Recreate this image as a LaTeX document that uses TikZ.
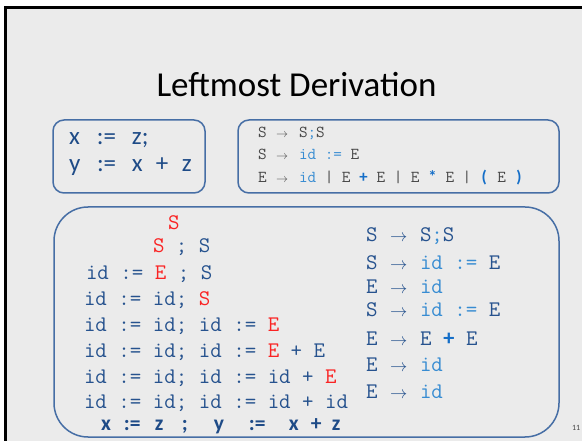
\documentclass[tikz,border=0pt]{standalone}
\usepackage{fontspec}
\setmainfont{Carlito}
\setmonofont{Latin Modern Mono}

\definecolor{slidebg}{RGB}{235,235,235}
\definecolor{panelline}{RGB}{70,110,165}
\definecolor{codeblue}{RGB}{30,75,135}
\definecolor{derivblue}{RGB}{38,82,142}
\definecolor{ltblue}{RGB}{55,140,210}
\definecolor{opblue}{RGB}{20,110,200}
\definecolor{derivred}{RGB}{250,35,35}
\definecolor{gramgray}{RGB}{70,70,70}

% coloured pieces of the grammar text
\newcommand\rd[1]{\textcolor{derivred}{#1}}
\newcommand\lb[1]{\textcolor{ltblue}{#1}}
\newcommand\bop[1]{\makebox[0.525em][c]{\rmfamily\bfseries\textcolor{opblue}{#1}}}
\newcommand\arr[1]{{\fontsize{#1}{#1}\selectfont$\rightarrow$}}

\tikzset{
  panel/.style={draw=panelline, line width=1.5pt},
  txt/.style={anchor=base west, inner sep=0pt, outer sep=0pt},
  gram/.style={txt, text=gramgray, font=\ttfamily\fontsize{16.7}{18}\selectfont},
  deriv/.style={txt, text=derivblue, font=\ttfamily\fontsize{22.3}{24}\selectfont},
  prog/.style={txt, text=codeblue, font=\fontsize{25}{27}\selectfont},
}

\begin{document}
\begin{tikzpicture}[x=1pt,y=-1pt]
\useasboundingbox (0,0) rectangle (582,441);
% slide frame
\fill[white] (0,0) rectangle (582,441);
\fill[black] (4,6) rectangle (582,441);
\fill[slidebg] (7,9) rectangle (582,441);

% title
\node[anchor=base, inner sep=0pt, font=\fontsize{35}{38}\selectfont] (title) at (296.5,97) {Leftmost Derivation};

% panels
\draw[panel, rounded corners=11pt] (53,120) rectangle (205,193);
\draw[panel, rounded corners=11pt] (238,120) rectangle (559,193);
\draw[panel, rounded corners=34pt] (54,207) rectangle (559,437);

% program
\node[prog] (p1) at (69,145) {\makebox[28pt][l]{x}\makebox[35pt][l]{:=}z;};
\node[prog] (p2) at (69,172) {\makebox[28pt][l]{y}\makebox[35pt][l]{:=}\makebox[24pt][l]{x}\makebox[26pt][l]{+}z};

% grammar
\node[gram] (g1) at (258,138) {\makebox[18pt][l]{S}\makebox[23pt][l]{\arr{13}}S\lb{;}S};
\node[gram] (g2) at (258,160) {\makebox[18pt][l]{S}\makebox[23pt][l]{\arr{13}}\lb{id :=} E};
\node[gram] (g3) at (258,183) {\makebox[18pt][l]{E}\makebox[23pt][l]{\arr{13}}\lb{id} | E \bop{+} E | E \bop{*} E | \bop{(} E \bop{)}};

% derivation steps
\node[deriv] (d1) at (168,230) {\rd{S}};
\node[deriv] (d2) at (153,253) {\rd{S} ; S};
\node[deriv] (d3) at (86,280) {id := \rd{E} ; S};
\node[deriv] (d4) at (84,306) {id := id; \rd{S}};
\node[deriv] (d5) at (84,332) {id := id; id := \rd{E}};
\node[deriv] (d6) at (84,357) {id := id; id := \rd{E} + E};
\node[deriv] (d7) at (84,383) {id := id; id := id + \rd{E}};
\node[deriv] (d8) at (84,408) {id := id; id := id + id};
\node[txt, text=codeblue, font=\bfseries\fontsize{21.5}{23}\selectfont] (d9) at (101,430)
  {\makebox[23pt][l]{x}\makebox[31pt][l]{:=}\makebox[27pt][l]{z}\makebox[32pt][l]{;}\makebox[35pt][l]{y}\makebox[40pt][l]{:=}\makebox[22pt][l]{x}\makebox[21pt][l]{+}z};

% productions applied
\node[deriv] (r1) at (366,242) {\makebox[24pt][l]{S}\makebox[30pt][l]{\arr{19}}S\lb{;}S};
\node[deriv] (r2) at (366,270) {\makebox[24pt][l]{S}\makebox[30pt][l]{\arr{19}}\lb{id :=} E};
\node[deriv] (r3) at (366,294) {\makebox[24pt][l]{E}\makebox[30pt][l]{\arr{19}}\lb{id}};
\node[deriv] (r4) at (366,317) {\makebox[24pt][l]{S}\makebox[30pt][l]{\arr{19}}\lb{id :=} E};
\node[deriv] (r5) at (366,345) {\makebox[24pt][l]{E}\makebox[30pt][l]{\arr{19}}E \bop{+} E};
\node[deriv] (r6) at (366,371) {\makebox[24pt][l]{E}\makebox[30pt][l]{\arr{19}}\lb{id}};
\node[deriv] (r7) at (366,399) {\makebox[24pt][l]{E}\makebox[30pt][l]{\arr{19}}\lb{id}};

% slide number
\node[txt, text=gramgray, font=\fontsize{8}{8}\selectfont] (pg) at (572,430) {11};
\end{tikzpicture}
\end{document}
